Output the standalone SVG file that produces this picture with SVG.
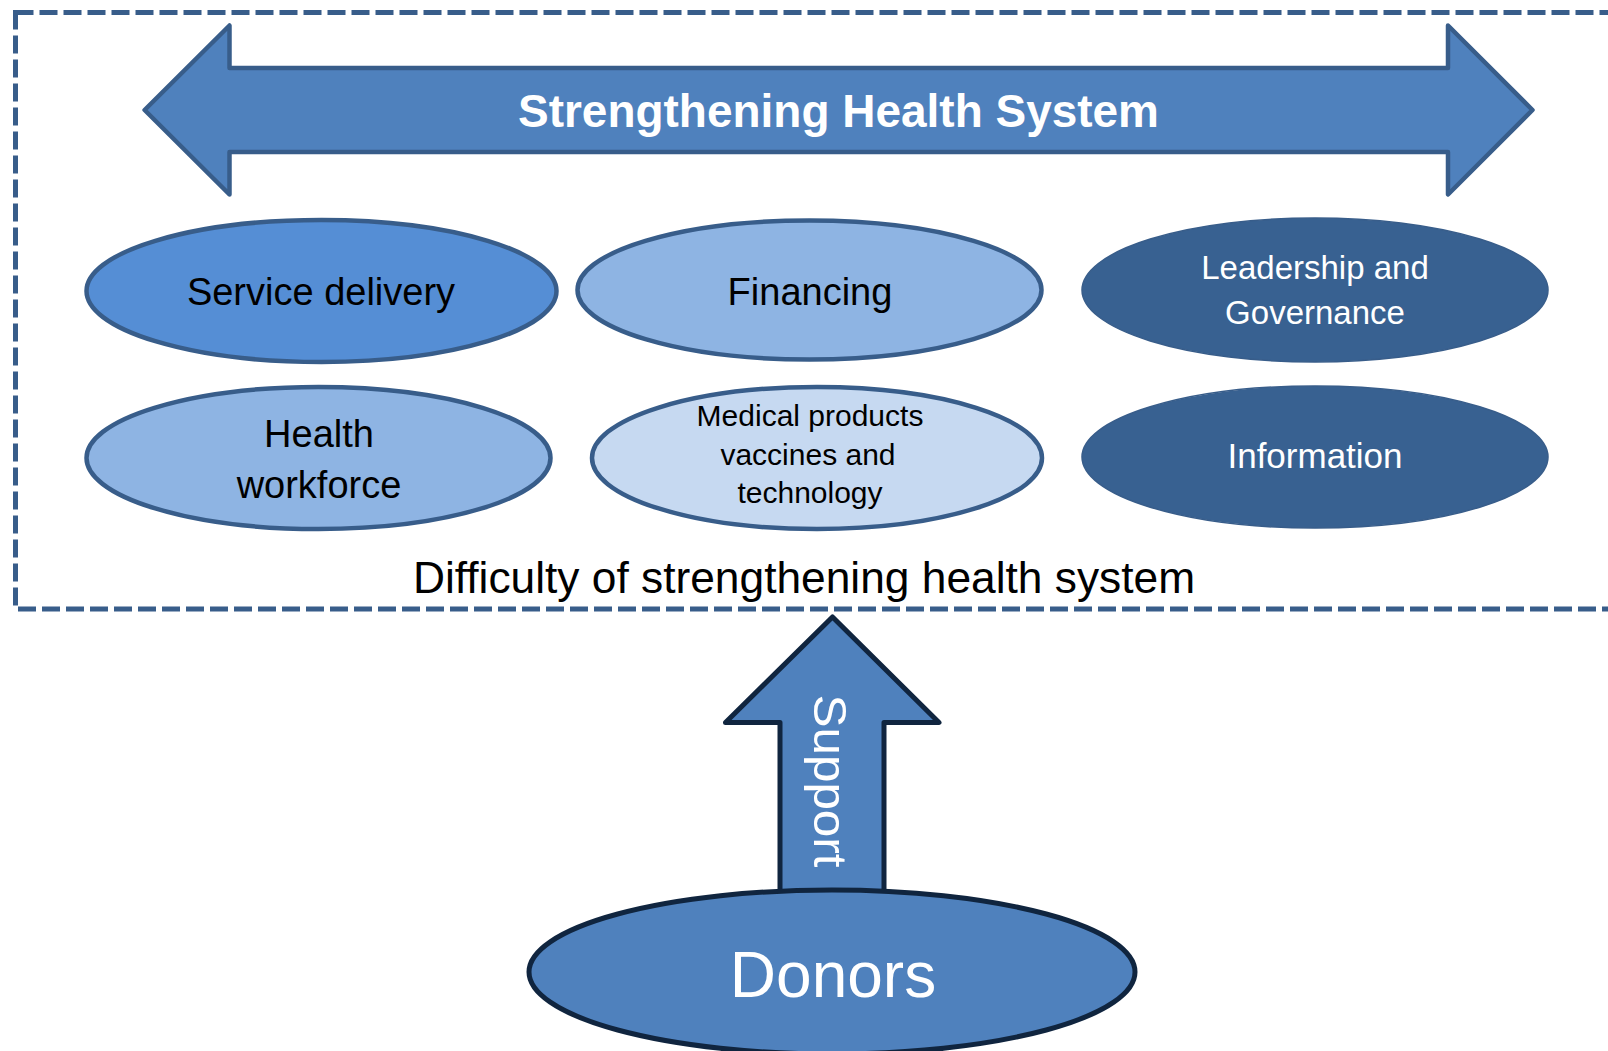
<svg xmlns="http://www.w3.org/2000/svg" width="1608" height="1051" viewBox="0 0 1608 1051">
<style>
  .t { font-family: "Liberation Sans", Arial, sans-serif; text-anchor: middle; }
  .dark-t { fill: #000000; }
  .light-t { fill: #ffffff; }
  .ell { stroke: #385D8A; stroke-width: 4.5; }
</style>
<rect width="1608" height="1051" fill="#ffffff"/>
<g id="frame">
  <rect x="15.5" y="12.5" width="1620" height="596.5" fill="none" stroke="#385D8A" stroke-width="5" stroke-dasharray="18 6"/>
  <text class="t dark-t" x="804" y="593" font-size="44.3">Difficulty of strengthening health system</text>
</g>
<g id="banner">
  <path d="M144.6,110 L229.5,25.5 L229.5,68 L1448,68 L1448,25.5 L1532.5,110 L1448,194.5 L1448,152 L229.5,152 L229.5,194.5 Z" fill="#4F81BD" stroke="#385D8A" stroke-width="4.5" stroke-linejoin="round"/>
  <text class="t light-t" x="838.5" y="127" font-size="46" font-weight="bold" textLength="641" lengthAdjust="spacingAndGlyphs">Strengthening Health System</text>
</g>
<g id="service-delivery">
  <ellipse class="ell" cx="321.5" cy="291" rx="235" ry="71" fill="#558ED5"/>
  <text class="t dark-t" x="321" y="305" font-size="38">Service delivery</text>
</g>
<g id="financing">
  <ellipse class="ell" cx="809.5" cy="290" rx="232" ry="69.5" fill="#8EB4E3"/>
  <text class="t dark-t" x="810" y="305" font-size="38">Financing</text>
</g>
<g id="leadership">
  <ellipse cx="1315" cy="290" rx="233" ry="72" fill="#386191" stroke="#385D8A" stroke-width="1.5"/>
  <text class="t light-t" x="1315" y="279" font-size="33">Leadership and</text>
  <text class="t light-t" x="1315" y="324" font-size="33">Governance</text>
</g>
<g id="health-workforce">
  <ellipse class="ell" cx="318.5" cy="458" rx="232" ry="71" fill="#8EB4E3"/>
  <text class="t dark-t" x="319" y="447" font-size="38">Health</text>
  <text class="t dark-t" x="319" y="498" font-size="38">workforce</text>
</g>
<g id="medical-products">
  <ellipse class="ell" cx="817" cy="458" rx="225" ry="71" fill="#C6D9F1"/>
  <text class="t dark-t" x="810" y="426" font-size="30">Medical products</text>
  <text class="t dark-t" x="808" y="464.5" font-size="30">vaccines and</text>
  <text class="t dark-t" x="810" y="503" font-size="30">technology</text>
</g>
<g id="information">
  <ellipse cx="1315" cy="457" rx="233" ry="71" fill="#386191" stroke="#385D8A" stroke-width="1.5"/>
  <text class="t light-t" x="1315" y="468" font-size="35">Information</text>
</g>
<g id="connectors">
  <path d="M832.5,617 L939,722.5 L884,722.5 L884,892 L780,892 L780,722.5 L725.5,722.5 Z" fill="#4F81BD" stroke="#10253F" stroke-width="5" stroke-linejoin="round"/>
  <text class="t light-t" transform="translate(814,781) rotate(90)" x="0" y="0" font-size="47" textLength="173" lengthAdjust="spacingAndGlyphs">Support</text>
</g>
<g id="donors">
  <ellipse cx="832" cy="972" rx="303" ry="82" fill="#4F81BD" stroke="#10253F" stroke-width="5"/>
  <text class="t light-t" x="833" y="997" font-size="64">Donors</text>
</g>
</svg>
